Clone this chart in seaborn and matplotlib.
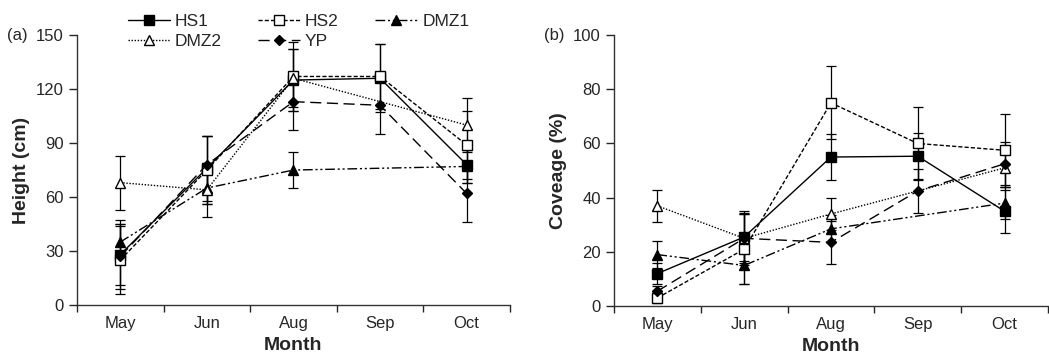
"""Height and coverage by month for five sites, two panels."""
import matplotlib

matplotlib.use("Agg")
import matplotlib.pyplot as plt
import numpy as np
import pandas as pd
import seaborn as sns

sns.set_style("ticks")
plt.rcParams["font.family"] = ["Liberation Sans", "DejaVu Sans"]

months = ["May", "Jun", "Aug", "Sep", "Oct"]
sites = ["HS1", "HS2", "DMZ1", "DMZ2", "YP"]

# (a) height, cm  (NaN = not measured; line joins neighbours)
height_hs1 = [28, 76, 125, 126, 78]
height_hs2 = [25, 75, 127, 127, 89]
height_dmz1 = [35, 65, 75, np.nan, 77]
height_dmz2 = [68, 64, 126, np.nan, 100]
height_yp = [27, 78, 113, 111, 62]

height_err_hs1 = [17, 18, 17, 19, 10]
height_err_hs2 = [19, 19, 19, 18, 19]
height_err_dmz1 = [12, 9, 10, np.nan, 9]
height_err_dmz2 = [15, 15, 16, np.nan, 15]
height_err_yp = [18, 16, 16, 16, 16]

# (b) coverage, %
cover_hs1 = [12, 25.5, 55, 55.3, 35]
cover_hs2 = [3, 21, 75, 60, 57.5]
cover_dmz1 = [19, 15, 28.5, np.nan, 38]
cover_dmz2 = [37, 25, 34, np.nan, 51]
cover_yp = [5.5, 25, 23.5, 42.5, 52.5]

cover_err_hs1 = [4, 9, 8.5, 8.5, 8]
cover_err_hs2 = [2, 13, 13.5, 13.5, 13.5]
cover_err_dmz1 = [5, 7, 5, np.nan, 6]
cover_err_dmz2 = [6, 9, 6, np.nan, 7]
cover_err_yp = [2, 10, 8, 8, 8]

styles = {
    "HS1": dict(ls="-", marker="s", mfc="black", ms=7),
    "HS2": dict(ls=(0, (3, 1.5)), marker="s", mfc="white", ms=7),
    "DMZ1": dict(ls=(0, (7, 2, 1.5, 2, 1.5, 2)), marker="^", mfc="black", ms=7),
    "DMZ2": dict(ls=(0, (1, 1.2)), marker="^", mfc="white", ms=7),
    "YP": dict(ls=(0, (8, 4)), marker="D", mfc="black", ms=5.5),
}


def build(values, errors):
    rows = []
    for site, v, e in zip(sites, values, errors):
        for i, (m, y, err) in enumerate(zip(months, v, e)):
            rows.append(dict(site=site, x=i, month=m, value=y, err=err))
    return pd.DataFrame(rows).dropna()


df_h = build([height_hs1, height_hs2, height_dmz1, height_dmz2, height_yp],
             [height_err_hs1, height_err_hs2, height_err_dmz1, height_err_dmz2, height_err_yp])
df_c = build([cover_hs1, cover_hs2, cover_dmz1, cover_dmz2, cover_yp],
             [cover_err_hs1, cover_err_hs2, cover_err_dmz1, cover_err_dmz2, cover_err_yp])


def draw(ax, df, ymax, ystep, ylabel, tag):
    for site in sites:
        d = df[df["site"] == site]
        st = styles[site]
        ax.errorbar(d["x"], d["value"], yerr=d["err"], fmt="none", ecolor="black",
                    elinewidth=0.9, capsize=3.5, capthick=0.9, zorder=2)
        sns.lineplot(data=d, x="x", y="value", ax=ax, color="black", lw=1.0,
                     linestyle=st["ls"], marker=st["marker"], markersize=st["ms"],
                     markerfacecolor=st["mfc"], markeredgecolor="black",
                     markeredgewidth=1.0, label=site, zorder=3, legend=False)
    ax.set_xlim(-0.5, 4.5)
    ax.set_ylim(0, ymax)
    ax.set_yticks(np.arange(0, ymax + 1, ystep))
    ax.set_xticks(np.arange(-0.5, 4.6, 1))
    ax.set_xticklabels([])
    ax.set_xticks(range(len(months)), minor=True)
    ax.set_xticklabels(months, minor=True)
    ax.tick_params(axis="x", which="minor", length=0, pad=8, labelsize=12)
    ax.tick_params(axis="x", which="major", length=5, width=1, direction="out")
    ax.tick_params(axis="y", length=6, width=1, labelsize=12)
    ax.set_xlabel("Month", fontsize=14, fontweight="bold", labelpad=4)
    ax.set_ylabel(ylabel, fontsize=14, fontweight="bold", labelpad=4)
    ax.text(-0.115, 1.0, tag, transform=ax.transAxes, fontsize=12, va="center", ha="right")
    for s in ["left", "bottom"]:
        ax.spines[s].set_color("#333333")
        ax.spines[s].set_linewidth(1.0)
    sns.despine(ax=ax)


fig = plt.figure(figsize=(10.49, 3.58), dpi=100)
ax1 = fig.add_axes([0.0734, 0.148, 0.4127, 0.754])
ax2 = fig.add_axes([0.5853, 0.145, 0.4137, 0.757])

draw(ax1, df_h, 150, 30, "Height (cm)", "(a)")
draw(ax2, df_c, 100, 20, "Coveage (%)", "(b)")

# legend rows: HS1 HS2 DMZ1 / DMZ2 YP (matplotlib fills column by column)
handles, labels = ax1.get_legend_handles_labels()
lookup = dict(zip(labels, handles))
order = ["HS1", "DMZ2", "HS2", "YP", "DMZ1"]
fig.legend([lookup[k] for k in order], order, ncol=3, loc="upper left",
           bbox_to_anchor=(0.107, 1.005), frameon=False, fontsize=12.5,
           handlelength=2.4, columnspacing=2.1, labelspacing=0.3, handletextpad=0.3)

fig.savefig("out.png", dpi=100)
